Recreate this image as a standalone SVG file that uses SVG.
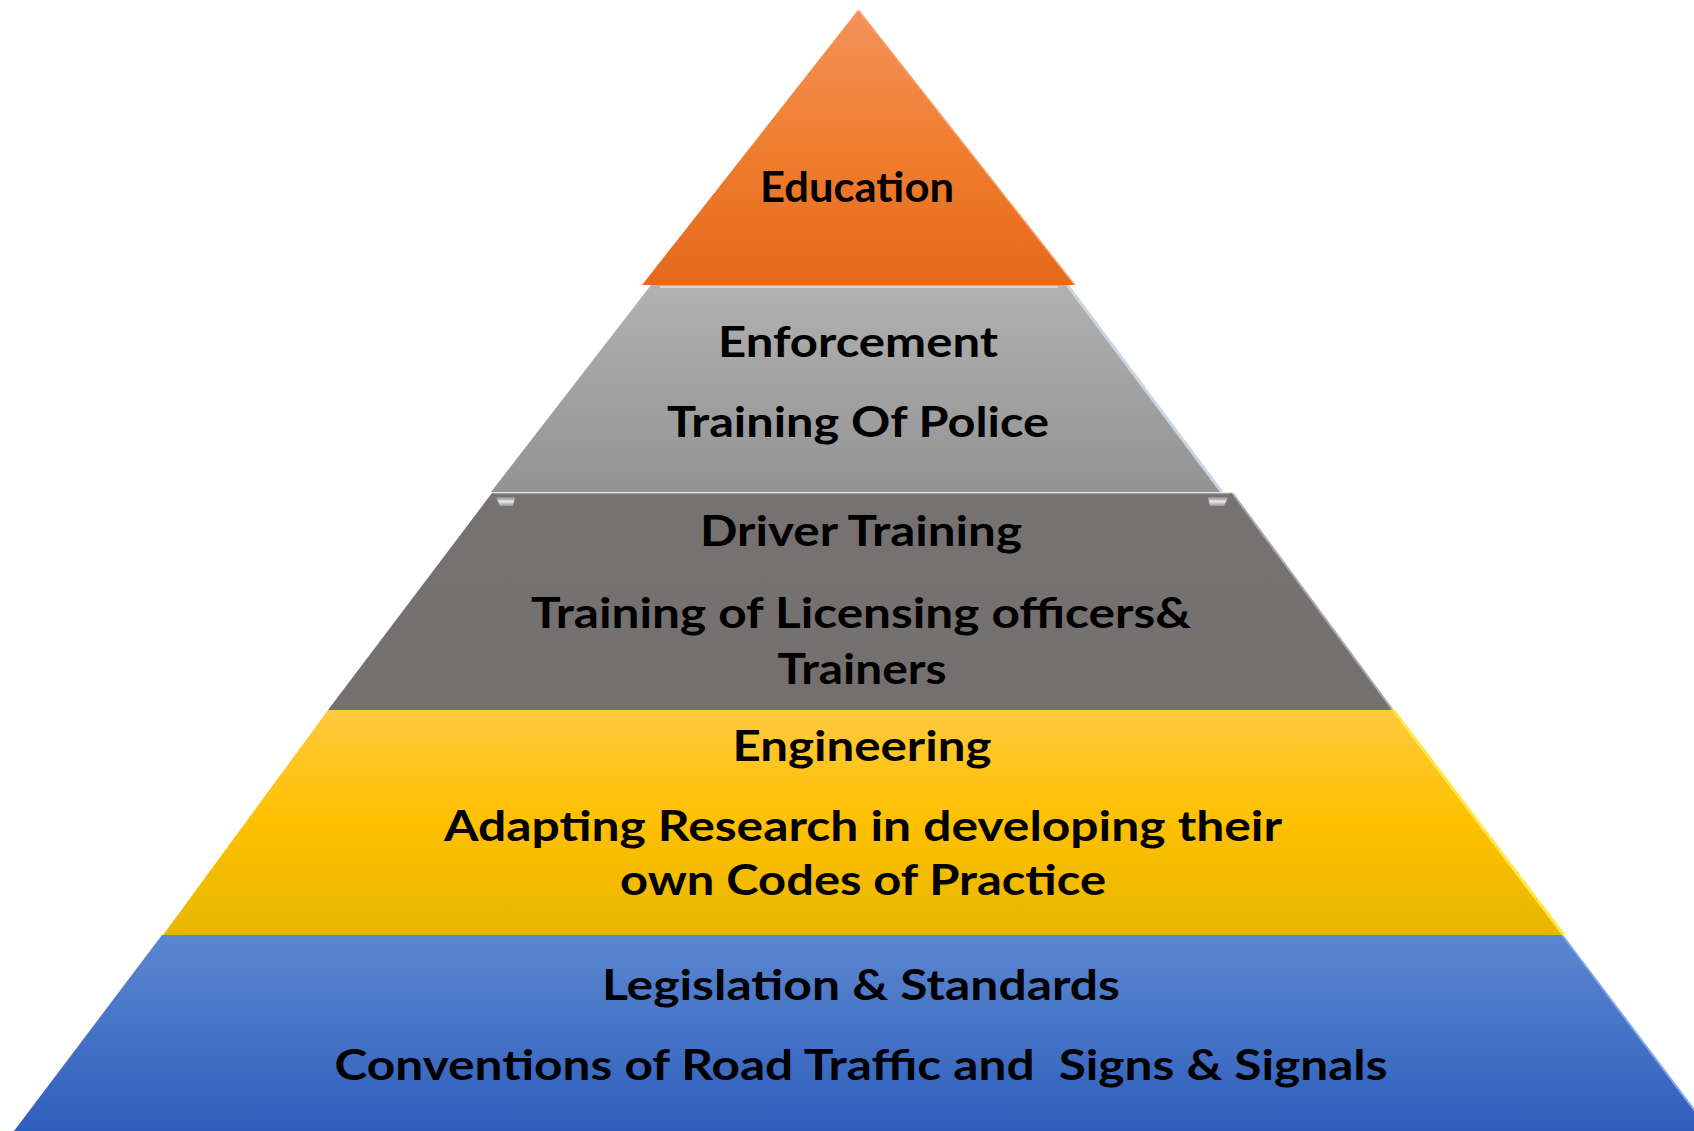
<svg xmlns="http://www.w3.org/2000/svg" width="1694" height="1131" viewBox="0 0 1694 1131">
<style>
.t{font-family:Lato,"Open Sans","Liberation Sans",sans-serif;font-weight:700;font-size:42px;fill:#000;text-anchor:middle}
.edge{fill:none;stroke-linecap:round}
</style>
<defs>
<linearGradient id="gOrange" x1="0" y1="0" x2="0" y2="1">
<stop offset="0" stop-color="#F4935B"/>
<stop offset="0.5" stop-color="#F07D2E"/>
<stop offset="1" stop-color="#E46A1A"/>
</linearGradient>
<linearGradient id="gGray" x1="0" y1="0" x2="0" y2="1">
<stop offset="0" stop-color="#B1B1B1"/>
<stop offset="1" stop-color="#939393"/>
</linearGradient>
<linearGradient id="gDark" x1="0" y1="0" x2="0" y2="1">
<stop offset="0" stop-color="#767272"/>
<stop offset="1" stop-color="#747070"/>
</linearGradient>
<linearGradient id="gYellow" x1="0" y1="0" x2="0" y2="1">
<stop offset="0" stop-color="#FFC93E"/>
<stop offset="0.5" stop-color="#FFC000"/>
<stop offset="1" stop-color="#E7B700"/>
</linearGradient>
<linearGradient id="gBlue" x1="0" y1="0" x2="0" y2="1">
<stop offset="0" stop-color="#5B86D0"/>
<stop offset="1" stop-color="#2F5FBC"/>
</linearGradient>
<linearGradient id="gBevel" x1="0" y1="0" x2="0" y2="1">
<stop offset="0" stop-color="#8A8787"/>
<stop offset="0.5" stop-color="#E8E8E8"/>
<stop offset="1" stop-color="#9A9797"/>
</linearGradient>
</defs>

<g id="level-legislation">
<polygon points="162,935 1562,935 1710,1131 14,1131" fill="url(#gBlue)"/>
<line class="edge" x1="1563" y1="936" x2="1710" y2="1131" stroke="#84AAE6" stroke-width="2"/>
<text class="t" x="861" y="1000" textLength="518" lengthAdjust="spacingAndGlyphs">Legislation &amp; Standards</text>
<text class="t" x="861" y="1080" textLength="1053" lengthAdjust="spacingAndGlyphs" xml:space="preserve">Conventions of Road Traffic and  Signs &amp; Signals</text>
</g>

<g id="level-engineering">
<polygon points="328,710 1393,710 1563,935 163,935" fill="url(#gYellow)"/>
<line class="edge" x1="1394" y1="711" x2="1563" y2="934" stroke="#FFE845" stroke-width="3"/>
<text class="t" x="862" y="761" textLength="259" lengthAdjust="spacingAndGlyphs">Engineering</text>
<text class="t" x="863" y="841" textLength="838" lengthAdjust="spacingAndGlyphs">Adapting Research in developing their</text>
<text class="t" x="863" y="895" textLength="486" lengthAdjust="spacingAndGlyphs">own Codes of Practice</text>
</g>

<g id="level-driver-training">
<polygon points="492,493 1232,493 1392,710 328,710" fill="url(#gDark)"/>
<line x1="493" y1="493.5" x2="1231" y2="493.5" stroke="#9E9C9C" stroke-width="1.5"/>
<line class="edge" x1="1233" y1="494" x2="1392" y2="709" stroke="#A9A9A9" stroke-width="2"/>
<polygon points="496,497 515,497 513,506 500,506" fill="url(#gBevel)"/>
<polygon points="1208,497 1228,497 1224,506 1210,506" fill="url(#gBevel)"/>
<text class="t" x="861" y="546" textLength="322" lengthAdjust="spacingAndGlyphs">Driver Training</text>
<text class="t" x="861" y="628" textLength="660" lengthAdjust="spacingAndGlyphs">Training of Licensing officers&amp;</text>
<text class="t" x="862" y="684" textLength="169" lengthAdjust="spacingAndGlyphs">Trainers</text>
</g>

<g id="level-enforcement">
<polygon points="651,285 1067,285 1222,492 491,492" fill="url(#gGray)"/>
<line x1="660" y1="287" x2="1058" y2="287" stroke="#D6D6D6" stroke-width="2"/>
<line class="edge" x1="1068" y1="286" x2="1221" y2="491" stroke="#CAD6E3" stroke-width="3"/>
<text class="t" x="858" y="357" textLength="280" lengthAdjust="spacingAndGlyphs">Enforcement</text>
<text class="t" x="858" y="437" textLength="382" lengthAdjust="spacingAndGlyphs">Training Of Police</text>
</g>

<g id="level-education">
<polygon points="858,10 642,285 1075,285" fill="url(#gOrange)"/>
<line class="edge" x1="859" y1="11" x2="1074" y2="284" stroke="#F7A26E" stroke-width="1.5"/>
<text class="t" x="857" y="202" textLength="194" lengthAdjust="spacingAndGlyphs">Education</text>
</g>

<g id="connectors"></g>
</svg>
